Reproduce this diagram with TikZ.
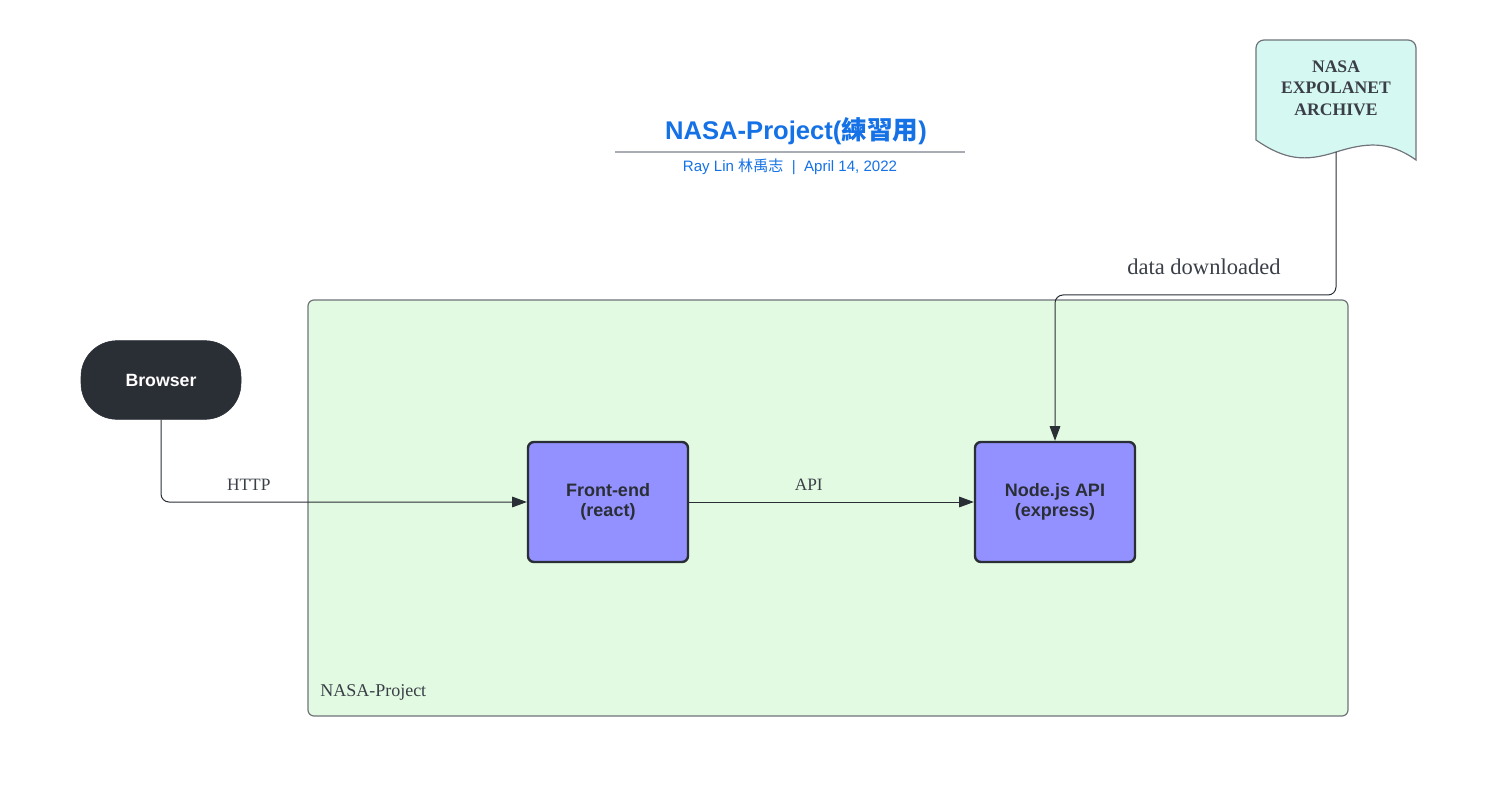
\documentclass[tikz,border=0pt]{standalone}
\usepackage{fontspec}
\setmainfont{Liberation Serif}
\setsansfont{Liberation Sans}
\newfontfamily\cjkFont{Noto Sans CJK TC}
\usepackage{tikz}
\usetikzlibrary{positioning,arrows.meta}
\definecolor{titleBlue}{HTML}{1471E6}
\definecolor{ruleGray}{HTML}{A9ADB3}
\definecolor{areaGreen}{HTML}{E2FAE2}
\definecolor{areaBorder}{HTML}{70747A}
\definecolor{blockPurple}{HTML}{9391FF}
\definecolor{inkDark}{HTML}{2A2E35}
\definecolor{archiveCyan}{HTML}{D6F8F3}
\definecolor{labelGray}{HTML}{3A3F47}
\tikzstyle{projectArea} = [fill=areaGreen, draw=areaBorder, line width=.9pt, rounded corners=4.5pt]
\tikzstyle{projectLabel} = [anchor=west, inner sep=0pt, text=labelGray, font=\fontsize{13.5}{16}\selectfont]
\tikzstyle{titleText} = [text=titleBlue, font=\sffamily\bfseries\fontsize{19.2}{23}\selectfont]
\tikzstyle{subTitleText} = [text=titleBlue, font=\sffamily\fontsize{11.3}{13}\selectfont]
\tikzstyle{titleRule} = [color=ruleGray, line width=1.5pt]
\tikzstyle{archiveStyle} = [fill=archiveCyan, draw=areaBorder, line width=.9pt]
\tikzstyle{archiveText} = [align=center, text=labelGray, font=\bfseries\fontsize{13.2}{16.2}\selectfont]
\tikzstyle{browserStyle} = [fill=inkDark, draw=inkDark, rounded corners=27pt, minimum width=120pt, minimum height=59pt, text=white, font=\sffamily\bfseries\fontsize{13.3}{15}\selectfont]
\tikzstyle{blockStyle} = [fill=blockPurple, draw=inkDark, line width=1.8pt, rounded corners=4.5pt, minimum width=120pt, minimum height=90pt, align=center, text=inkDark, font=\sffamily\bfseries\fontsize{13.5}{15.5}\selectfont]
\tikzstyle{connector} = [draw=inkDark, line width=.75pt, rounded corners=6pt, -{Triangle[length=11pt, width=8pt]}]
\tikzstyle{connectorLabel} = [above=8pt, inner sep=0pt, text=labelGray, font=\fontsize{13}{15}\selectfont]
\tikzstyle{dataLabel} = [above=15pt, inner sep=0pt, text=labelGray, font=\fontsize{16.9}{19}\selectfont]

\begin{document}
\begin{tikzpicture}[x=.75pt, y=-.75pt]
  \useasboundingbox (0,0) rectangle (1497,795);

  % project area
  \filldraw [projectArea] (308,300) rectangle (1348,716);
  \node [projectLabel] (projectName) at (320,692) {NASA-Project};

  % title block
  \node [titleText] (title) at (796,131) {NASA-Project({\cjkFont\bfseries 練習用})};
  \draw [titleRule] (615,152) -- (965,152);
  \node [subTitleText] (subTitle) at (790,167) {Ray Lin {\cjkFont 林禹志}\ \ |\ \ April 14, 2022};

  % archive document
  \filldraw [archiveStyle] (1416,100) [rounded corners=6pt] -- (1416,40) -- (1256,40) -- (1256,100)
    [sharp corners] -- (1256,140) .. controls (1285,160) and (1305,162) .. (1336,152)
    .. controls (1365,143) and (1388,140) .. (1416,160) -- cycle;
  \node [archiveText] (archive) at (1336,88) {NASA\\EXPOLANET\\ARCHIVE};
  \coordinate (archiveTail) at (1336,152);
  \coordinate (dataBend) at (1055,295);

  % blocks
  \node [browserStyle] (browser) at (161,380) {Browser};
  \node [blockStyle] (frontEnd) at (608,502) {Front-end\\(react)};
  \node [blockStyle] (nodeApi) at (1055,502) {Node.js API\\(express)};

  % connectors
  \draw [connector] (browser.south) |- node [connectorLabel, pos=.62] {HTTP} (frontEnd.west);
  \draw [connector] (frontEnd.east) -- node [connectorLabel, pos=.42] {API} (nodeApi.west);
  \draw [connector] (archiveTail) |- node [dataLabel, pos=.735] {data downloaded} (dataBend) -- (nodeApi.north);
\end{tikzpicture}
\end{document}
